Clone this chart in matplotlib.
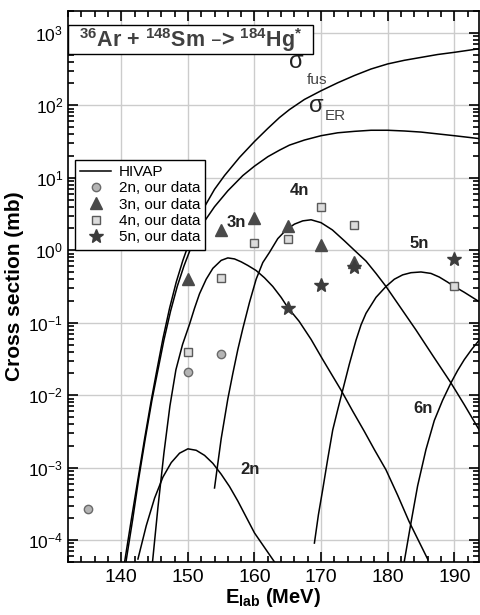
import numpy as np
import matplotlib
matplotlib.use('Agg')
import matplotlib.pyplot as plt
from matplotlib.patches import Rectangle
from matplotlib.ticker import FixedLocator, LogFormatterSciNotation, NullFormatter

plt.rcParams['font.family'] = ['Liberation Sans', 'DejaVu Sans']
plt.rcParams['mathtext.default'] = 'regular'

# HIVAP curves: E_lab (MeV) and log10 of cross section (mb)
fus_e = [140.5, 141.5, 142.5, 143.5, 144.5, 145.25, 146.25, 147.25, 148.25, 149.25, 150.25, 151.25,
         152.5, 154, 155.5, 157.75, 160, 162, 163.75, 165.25, 167.5, 170, 172.5, 175, 177.5, 180,
         182.5, 185, 187.5, 190, 193.75]
fus_lg = [-4.3, -3.72, -3.16, -2.6, -2.07, -1.7, -1.22, -0.8, -0.44, -0.14, 0.12, 0.35,
          0.6, 0.84, 1.03, 1.28, 1.5, 1.68, 1.83, 1.94, 2.08, 2.2, 2.31, 2.41, 2.5, 2.57,
          2.62, 2.66, 2.7, 2.73, 2.78]

er_e = [140.7, 141.7, 142.6, 143.6, 144.6, 145.4, 146.4, 147.4, 148.4, 149.4, 150.4, 151.4,
        152.5, 154, 156, 158.25, 160, 162, 163.75, 165.25, 167.5, 170, 172.5, 175, 177.5, 180,
        182.5, 185, 187.5, 190, 193.75]
er_lg = [-4.3, -3.72, -3.16, -2.6, -2.07, -1.7, -1.24, -0.84, -0.5, -0.22, 0.02, 0.22,
         0.4, 0.6, 0.82, 1.03, 1.16, 1.29, 1.38, 1.45, 1.52, 1.58, 1.62, 1.64, 1.655, 1.655,
         1.645, 1.63, 1.605, 1.58, 1.54]

n2_e = [142.5, 143.75, 145, 146.25, 147.5, 148.75, 150, 151.25, 152.5, 153.75, 155, 156.25,
        157.5, 158.75, 160, 161.5, 163]
n2_lg = [-4.26, -3.8, -3.42, -3.13, -2.93, -2.8, -2.74, -2.76, -2.83, -2.94, -3.09, -3.26,
         -3.46, -3.68, -3.9, -4.1, -4.3]

n3_e = [144.7, 145.5, 146.4, 147.3, 148.2, 149.2, 150.25, 151, 151.75, 152.75, 153.75, 155, 156,
        157, 158, 159, 160.25, 161.5, 162.75, 164, 165, 166.7, 168.5, 170.2, 171.5, 173, 174.75,
        176.5, 178, 179.75, 181.5, 183.2, 184.6, 186]
n3_lg = [-4.29, -3.55, -2.8, -2.15, -1.65, -1.3, -1.02, -0.8, -0.6, -0.4, -0.25, -0.14, -0.106,
         -0.12, -0.16, -0.21, -0.28, -0.38, -0.5, -0.65, -0.79, -0.98, -1.23, -1.5, -1.7, -1.93, -2.22,
         -2.5, -2.75, -3.03, -3.38, -3.74, -4.0, -4.26]

n4_e = [154, 155, 156, 156.75, 157.5, 158.25, 159.25, 160.25, 161.25, 162.25, 163.5, 164.75,
        166, 167.25, 168.5, 170, 171.7, 173.5, 175, 176.75, 178.25, 179.75, 182, 184.25,
        186.75, 189.5, 191.5, 193.75]
n4_lg = [-3.28, -2.6, -2.05, -1.7, -1.37, -1.08, -0.72, -0.4, -0.17, -0.03, 0.16, 0.28,
         0.36, 0.405, 0.42, 0.38, 0.28, 0.13, 0.0, -0.15, -0.32, -0.5, -0.8, -1.1,
         -1.45, -1.83, -2.13, -2.48]

n5_e = [169, 169.6, 170.25, 171, 171.75, 172.5, 173.25, 174.25, 175.25, 176, 176.75, 178.25,
        179.75, 181, 182.25, 183.5, 185, 186.5, 187.75, 189, 190, 191.5, 193.75]
n5_lg = [-4.04, -3.65, -3.3, -2.88, -2.48, -2.2, -1.93, -1.57, -1.24, -1.03, -0.87, -0.65,
         -0.5, -0.4, -0.34, -0.31, -0.3, -0.32, -0.37, -0.44, -0.5, -0.58, -0.71]

n6_e = [182.5, 183.5, 184.5, 185.75, 187, 188.25, 189.5, 190.5, 191.5, 192.6, 193.75]
n6_lg = [-4.29, -3.76, -3.25, -2.75, -2.35, -2.07, -1.83, -1.66, -1.51, -1.37, -1.24]

# measured points (mb)
d2_e = [135, 150, 155]
d2_s = [2.7e-4, 0.021, 0.037]
d3_e = [150, 155, 160, 165, 170, 175]
d3_s = [0.40, 1.93, 2.79, 2.16, 1.17, 0.68]
d4_e = [150, 155, 160, 165, 170, 175, 190]
d4_s = [0.040, 0.41, 1.26, 1.45, 4.0, 2.2, 0.32]
d5_e = [165, 170, 175, 190]
d5_s = [0.16, 0.33, 0.59, 0.75]

x_ticks = [140, 150, 160, 170, 180, 190]
y_ticks = [1e-4, 1e-3, 1e-2, 1e-1, 1e0, 1e1, 1e2, 1e3]

fig = plt.figure(figsize=(4.8, 6.15), dpi=100)
ax = fig.add_axes([0.1417, 0.0862, 0.856, 0.896])
ax.set_yscale('log')
ax.set_xlim(132, 193.7)
ax.set_ylim(5e-5, 2e3)

ax.grid(True, which='major', color='#cccccc', lw=1.0, zorder=0)
ax.set_axisbelow(True)

curves = [(fus_e, fus_lg), (er_e, er_lg), (n2_e, n2_lg), (n3_e, n3_lg),
          (n4_e, n4_lg), (n5_e, n5_lg), (n6_e, n6_lg)]
for i, (e, lg) in enumerate(curves):
    ax.plot(e, 10 ** np.array(lg), color='black', lw=1.1, zorder=2,
            label='HIVAP' if i == 0 else None)

ax.plot(d2_e, d2_s, 'o', ms=6, mfc='#b4b4b4', mec='#6a6a6a', mew=1, ls='none', label='2n, our data', zorder=3)
ax.plot(d3_e, d3_s, '^', ms=9, mfc='#4a4a4a', mec='#4a4a4a', ls='none', label='3n, our data', zorder=3)
ax.plot(d4_e, d4_s, 's', ms=6, mfc='#dcdcdc', mec='#5a5a5a', mew=1, ls='none', label='4n, our data', zorder=3)
ax.plot(d5_e, d5_s, '*', ms=10, mfc='#3c3c3c', mec='#3c3c3c', ls='none', label='5n, our data', zorder=3)

# curve labels
for txt, x, y in [('3n', 157.3, 2.45), ('4n', 166.8, 6.7), ('5n', 184.8, 1.25),
                  ('6n', 185.3, 6.6e-3), ('2n', 159.3, 9.4e-4)]:
    ax.text(x, y, txt, fontsize=12, fontweight='bold', ha='center', va='center', color='#222222', zorder=4)
ax.text(166.25, 390, r'$\sigma$', fontsize=17, ha='center', va='center', color='#222222')
ax.text(167.9, 225, 'fus', fontsize=11, ha='left', va='center', color='#444444')
ax.text(169.25, 98, r'$\sigma$', fontsize=17, ha='center', va='center', color='#222222')
ax.text(170.6, 72, 'ER', fontsize=11, ha='left', va='center', color='#444444')

# reaction box
ax.add_patch(Rectangle((0, 0.922), 0.596, 0.053, transform=ax.transAxes, fill=True,
                       facecolor='white', edgecolor='black', lw=1, zorder=5))
ax.text(0.298, 0.948, r'$^{36}$Ar + $^{148}$Sm –> $^{184}$Hg$^{*}$', transform=ax.transAxes,
        fontsize=15.5, fontweight='bold', ha='center', va='center', color='#404040', zorder=6)

leg = ax.legend(loc='upper left', bbox_to_anchor=(0.017, 0.73), fontsize=11, frameon=True,
                fancybox=False, edgecolor='black', framealpha=1, labelspacing=0.15,
                handlelength=2.0, handletextpad=0.5, borderpad=0.35, borderaxespad=0)
leg.get_frame().set_linewidth(1.0)
leg.set_zorder(10)

ax.xaxis.set_major_locator(FixedLocator(x_ticks))
ax.xaxis.set_minor_locator(FixedLocator(np.arange(132, 194, 2)))
ax.yaxis.set_major_locator(FixedLocator(y_ticks))
ax.yaxis.set_major_formatter(LogFormatterSciNotation())
minor_y = [m * 10.0 ** k for k in range(-5, 4) for m in range(2, 10)]
ax.yaxis.set_minor_locator(FixedLocator([v for v in minor_y if 5e-5 <= v <= 2e3]))
ax.yaxis.set_minor_formatter(NullFormatter())
ax.tick_params(which='both', direction='in', top=True, right=True, width=1.2)
ax.tick_params(axis='x', labelsize=14, pad=5)
ax.tick_params(axis='y', labelsize=12.5)
ax.tick_params(which='major', length=7)
ax.tick_params(which='minor', length=4)
for sp in ax.spines.values():
    sp.set_linewidth(1.2)

ax.set_xlabel(r'E$_{lab}$ (MeV)', fontsize=14.5, fontweight='bold', labelpad=0)
ax.set_ylabel('Cross section (mb)', fontsize=15, fontweight='bold', labelpad=3)

fig.savefig('out.png', dpi=100)
